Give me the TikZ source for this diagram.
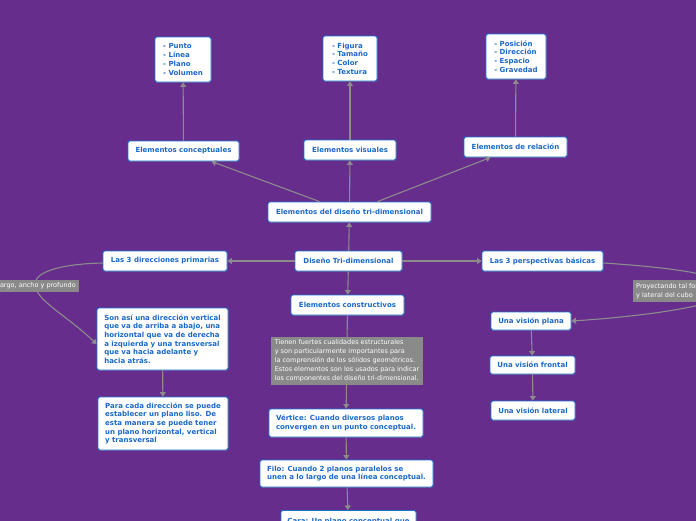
\documentclass[tikz,border=0pt]{standalone}
\usepackage{fontspec}
\setmainfont{DejaVu Sans}
\usetikzlibrary{arrows.meta,shadows}
\definecolor{bgpurple}{RGB}{102,45,140}
\definecolor{nodeblue}{RGB}{30,115,210}
\definecolor{txtblue}{RGB}{26,105,200}
\definecolor{linegray}{RGB}{140,140,140}
\definecolor{notegray}{RGB}{138,138,138}
\tikzset{
  topic/.style={draw=nodeblue, line width=0.9pt, fill=white, rounded corners=2pt,
    text=txtblue, font=\fontsize{7}{8.7}\selectfont\bfseries, align=left,
    inner sep=0pt, drop shadow={shadow xshift=0.6pt, shadow yshift=-0.8pt, opacity=0.35}},
  note/.style={fill=notegray, text=white, font=\fontsize{6.5}{9}\selectfont,
    align=left, inner sep=3pt},
  conn/.style={draw=linegray, line width=1.1pt, -{Triangle[length=4.5pt,width=6pt]}},
  plain/.style={draw=linegray, line width=1.1pt}
}
\begin{document}
\begin{tikzpicture}[x=1pt,y=-1pt]
\useasboundingbox (0,0) rectangle (696,520);
\clip (0,0) rectangle (696,520);
\fill[bgpurple] (-10,-10) rectangle (710,530);

% top detail nodes
\node[topic, minimum width=56pt, minimum height=45pt] (punto) at (183,59.5) {- Punto\\- Línea\\- Plano\\- Volumen};
\node[topic, minimum width=54pt, minimum height=45pt] (figura) at (350,58.5) {- Figura\\- Tamaño\\- Color\\- Textura};
\node[topic, minimum width=60pt, minimum height=45pt] (posicion) at (516,56.5) {- Posición\\- Dirección\\- Espacio\\- Gravedad};

% second row
\node[topic, minimum width=111pt, minimum height=20pt] (concep) at (183.5,151) {Elementos conceptuales};
\node[topic, minimum width=92pt, minimum height=20pt] (visual) at (350,150) {Elementos visuales};
\node[topic, minimum width=103pt, minimum height=20pt] (relac) at (515.5,147) {Elementos de relación};

\node[topic, minimum width=163pt, minimum height=20pt] (eld) at (349.5,212) {Elementos del diseño tri-dimensional};
\node[topic, minimum width=107pt, minimum height=20pt] (dtri) at (348.5,261) {Diseño Tri-dimensional};
\node[topic, minimum width=124pt, minimum height=20pt] (dir) at (165,261) {Las 3 direcciones primarias};
\node[topic, minimum width=121pt, minimum height=20pt] (persp) at (542.5,261) {Las 3 perspectivas básicas};
\node[topic, minimum width=113pt, minimum height=20pt] (constr) at (347.5,305) {Elementos constructivos};

\node[topic, minimum width=131pt, minimum height=62pt] (son) at (162.5,339) {Son así una dirección vertical\\que va de arriba a abajo, una\\horizontal que va de derecha\\a izquierda y una transversal\\que va hacia adelante y\\hacia atrás.};
\node[topic, minimum width=130pt, minimum height=53pt] (para) at (163,423.5) {Para cada dirección se puede\\establecer un plano liso. De\\esta manera se puede tener\\un plano horizontal, vertical\\y transversal};

\node[topic, minimum width=154pt, minimum height=28pt] (vert) at (346,423) {Vértice: Cuando diversos planos\\convergen en un punto conceptual.};
\node[topic, minimum width=173pt, minimum height=27pt] (filo) at (346.5,473.5) {Filo: Cuando 2 planos paralelos se\\unen a lo largo de una línea conceptual.};
\node[topic, minimum width=135pt, minimum height=30pt, anchor=north] (cara) at (348.5,510) {Cara: Un plano conceptual que\\};

\node[topic, minimum width=80pt, minimum height=18pt] (plana) at (531,321) {Una visión plana};
\node[topic, minimum width=85pt, minimum height=18pt] (frontal) at (532.5,365) {Una visión frontal};
\node[topic, minimum width=84pt, minimum height=19pt] (lateral) at (533,410.5) {Una visión lateral};

% connectors
\draw[conn] (concep) -- (punto);
\draw[conn] (visual) -- (figura);
\draw[conn] (relac) -- (posicion);
\draw[conn] ([xshift=-30pt]eld.north) -- ([xshift=28pt]concep.south);
\draw[conn] (eld) -- (visual);
\draw[conn] ([xshift=28pt]eld.north) -- ([xshift=-25pt]relac.south);
\draw[conn] (dtri) -- (eld);
\draw[conn] (dtri) -- (dir);
\draw[conn] (dtri) -- (persp);
\draw[conn] (dtri) -- (constr);
\draw[conn] (constr) -- (vert);
\draw[conn] (vert) -- (filo);
\draw[conn] (filo) -- (cara);
\draw[conn] (son) -- (para);
\draw[conn] (plana) -- (frontal);
\draw[conn] (frontal) -- (lateral);

\draw[conn] ([yshift=-2pt]dir.west) .. controls (60,264) and (35,272) .. (35,284)
   .. controls (35,300) and (65,314) .. ([yshift=-5pt]son.west);
\draw[conn] ([yshift=-2pt]persp.east) .. controls (680,268) and (730,276) .. (730,290)
   .. controls (730,304) and (650,316) .. (plana.east);

% notes on connectors
\node[note, anchor=east] (n1) at (79,286) {largo, ancho y profundo};
\node[note, anchor=west] (n2) at (633,291) {Proyectando tal forma\\y lateral del cubo};
\node[note, minimum width=152pt, minimum height=48pt] (n3) at (347,361) {Tienen fuertes cualidades estructurales\\y son particularmente importantes para\\la comprensión de los sólidos geométricos.\\Estos elementos son los usados para indicar\\los componentes del diseño tri-dimensional.};
\end{tikzpicture}
\end{document}
